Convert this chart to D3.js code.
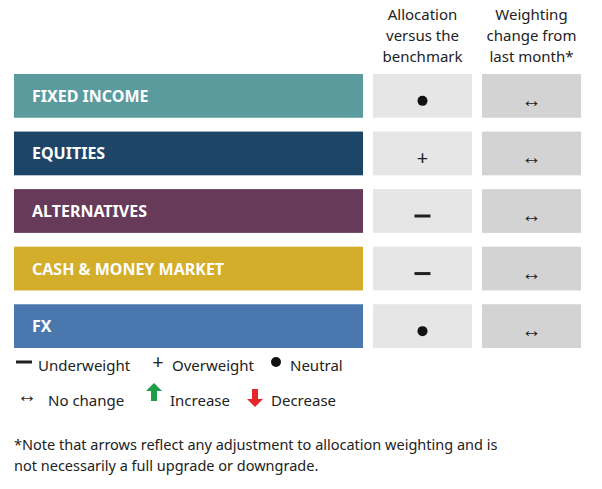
<!DOCTYPE html>
<html>
<head>
<meta charset="utf-8">
<script src="https://cdn.jsdelivr.net/npm/d3@7"></script>
<style>
  body { margin: 0; background: #fff; }
  text { font-family: "Noto Sans", sans-serif; }
</style>
</head>
<body>
<svg id="chart" width="602" height="489"></svg>
<script>
// Asset classes, their colours and the two status columns
const categories = ["FIXED INCOME", "EQUITIES", "ALTERNATIVES", "CASH & MONEY MARKET", "FX"];
const colors = ["#5b9a9d", "#1d4567", "#673a5a", "#d4ad2b", "#4a78ae"];
const allocation = ["neutral", "overweight", "underweight", "underweight", "neutral"];
const change = ["none", "none", "none", "none", "none"];
const headers = [["Allocation", "versus the", "benchmark"], ["Weighting", "change from", "last month*"]];

const svg = d3.select("#chart");

const y = d3.scaleBand().domain(categories).range([74, 348]).paddingInner(0.24).paddingOuter(0);
const colX = [373, 482];
const colW = 99;

// Column headers
headers.forEach((lines, c) => {
  lines.forEach((l, i) => {
    svg.append("text")
      .attr("x", colX[c] + colW / 2)
      .attr("y", 20 + i * 21)
      .attr("text-anchor", "middle")
      .attr("font-size", 15)
      .attr("fill", "#222")
      .text(l);
  });
});

const rows = svg.selectAll("g.row").data(categories).enter().append("g")
  .attr("transform", d => `translate(0,${y(d)})`);

rows.append("rect").attr("x", 14).attr("width", 349).attr("height", y.bandwidth())
  .attr("fill", (d, i) => colors[i]);
rows.append("text").attr("x", 32).attr("y", y.bandwidth() / 2 + 6)
  .attr("fill", "#fff").attr("font-size", 16).attr("font-weight", "bold")
  .text(d => d);

rows.append("rect").attr("x", colX[0]).attr("width", colW).attr("height", y.bandwidth()).attr("fill", "#e6e6e6");
rows.append("rect").attr("x", colX[1]).attr("width", colW).attr("height", y.bandwidth()).attr("fill", "#d3d3d3");

function symbol(g, kind, cx, cy) {
  if (kind === "neutral") {
    g.append("circle").attr("cx", cx).attr("cy", cy).attr("r", 5).attr("fill", "#111");
  } else if (kind === "overweight") {
    g.append("text").attr("x", cx).attr("y", cy + 7).attr("text-anchor", "middle")
      .attr("font-size", 20).attr("fill", "#222").text("+");
  } else if (kind === "underweight") {
    g.append("rect").attr("x", cx - 8).attr("y", cy - 1.5).attr("width", 16).attr("height", 3).attr("fill", "#222");
  } else if (kind === "none") {
    g.append("text").attr("x", cx).attr("y", cy + 6).attr("text-anchor", "middle")
      .attr("font-size", 20).attr("fill", "#222").text("\u2194");
  }
}

rows.each(function (d, i) {
  const g = d3.select(this);
  const cy = y.bandwidth() / 2 + 5;
  symbol(g, allocation[i], colX[0] + colW / 2, cy);
  symbol(g, change[i], colX[1] + colW / 2, cy);
});

// Legend
const leg1 = [["underweight", "Underweight", 16], ["overweight", "Overweight", 150], ["neutral", "Neutral", 268]];
leg1.forEach(([k, label, x]) => {
  symbol(svg, k, x + 8, 362);
  svg.append("text").attr("x", x + 22).attr("y", 371).attr("font-size", 15).attr("fill", "#222").text(label);
});
symbol(svg, "none", 27, 396);
svg.append("text").attr("x", 48).attr("y", 406).attr("font-size", 15).attr("fill", "#222").text("No change");
svg.append("path").attr("d", "M146,391 l8,-8 l8,8 h-5 v10 h-6 v-10 z").attr("fill", "#1f9e4a");
svg.append("text").attr("x", 170).attr("y", 406).attr("font-size", 15).attr("fill", "#222").text("Increase");
svg.append("path").attr("d", "M247,399 l8,8 l8,-8 h-5 v-10 h-6 v10 z").attr("fill", "#e4252b");
svg.append("text").attr("x", 271).attr("y", 406).attr("font-size", 15).attr("fill", "#222").text("Decrease");

// Footnote
["*Note that arrows reflect any adjustment to allocation weighting and is",
 "not necessarily a full upgrade or downgrade."].forEach((l, i) => {
  svg.append("text").attr("x", 14).attr("y", 450 + i * 21).attr("font-size", 14.5).attr("fill", "#222").text(l);
});
</script>
</body>
</html>
